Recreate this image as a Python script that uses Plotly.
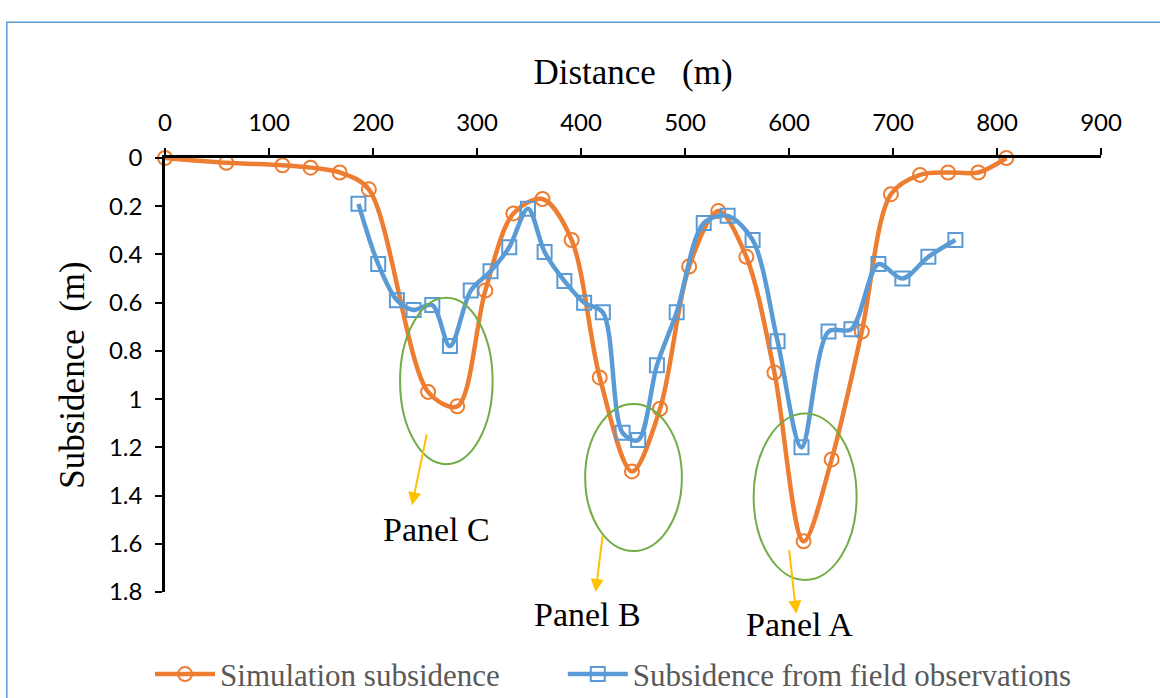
import plotly.graph_objects as go

# Simulation subsidence (orange)
sim_x = [0, 59, 113, 140, 168, 196, 253, 281, 308, 335, 363, 391, 418, 449, 476,
         504, 532, 559, 586, 614, 641, 670, 698, 726, 753, 782, 809]
sim_y = [0.0, 0.02, 0.03, 0.04, 0.06, 0.13, 0.97, 1.03, 0.55, 0.23, 0.17, 0.34, 0.91, 1.30, 1.04,
         0.45, 0.22, 0.41, 0.89, 1.59, 1.25, 0.72, 0.15, 0.07, 0.06, 0.06, 0.0]

# Subsidence from field observations (blue)
obs_x = [186, 205, 223, 239, 257, 274, 294, 313, 331, 349, 365, 384, 403, 421, 440,
         455, 473, 492, 518, 541, 565, 589, 612, 638, 660, 686, 709, 734, 760]
obs_y = [0.19, 0.44, 0.59, 0.63, 0.61, 0.78, 0.55, 0.47, 0.37, 0.21, 0.39, 0.51, 0.60, 0.64, 1.14,
         1.17, 0.86, 0.64, 0.27, 0.24, 0.34, 0.76, 1.20, 0.72, 0.71, 0.44, 0.50, 0.41, 0.34]

x_ticks = [0, 100, 200, 300, 400, 500, 600, 700, 800, 900]
y_ticks = [0, 0.2, 0.4, 0.6, 0.8, 1.0, 1.2, 1.4, 1.6, 1.8]
y_tick_labels = ["0", "0.2", "0.4", "0.6", "0.8", "1", "1.2", "1.4", "1.6", "1.8"]

panel_names = ["Panel C", "Panel B", "Panel A"]
# ellipse bounds (x0, x1, y0, y1) in data units
ellipses = [(226, 315, 0.58, 1.27), (404, 497, 1.02, 1.63), (566, 665, 1.06, 1.75)]
# arrow tail -> head in data units
arrows = [((252, 1.14), (237.5, 1.44)), ((421, 1.56), (414, 1.80)), ((600, 1.62), (607, 1.89))]
# label x in data units, y in paper fraction
label_pos = [(261.5, 0.145), (406, -0.051), (610, -0.074)]

ORANGE = "#ED7D31"
BLUE = "#5B9BD5"
SERIF = "Liberation Serif"

fig = go.Figure()
fig.add_trace(go.Scatter(
    x=sim_x, y=sim_y, name="Simulation subsidence", mode="lines+markers",
    line=dict(color=ORANGE, width=4.5, shape="spline", smoothing=0.9),
    marker=dict(symbol="circle-open", size=14, color=ORANGE, line=dict(width=2)),
    cliponaxis=False, legend="legend",
))
fig.add_trace(go.Scatter(
    x=obs_x, y=obs_y, name="Subsidence from field observations", mode="lines+markers",
    line=dict(color=BLUE, width=4.5, shape="spline", smoothing=0.9),
    marker=dict(symbol="square-open", size=14, color=BLUE, line=dict(width=2)),
    cliponaxis=False, legend="legend2",
))

shapes = []
for (x0, x1, y0, y1) in ellipses:
    shapes.append(dict(type="circle", xref="x", yref="y", x0=x0, x1=x1, y0=y0, y1=y1,
                       line=dict(color="#70AD47", width=2)))
# outer frame
shapes.append(dict(type="rect", xref="paper", yref="paper", x0=-0.169, x1=1.07, y0=-0.26, y1=1.313,
                   line=dict(color="#5B9BD5", width=1.5), layer="below"))

annotations = []
for (tail, head) in arrows:
    annotations.append(dict(x=head[0], y=head[1], ax=tail[0], ay=tail[1], xref="x", yref="y",
                            axref="x", ayref="y", showarrow=True, arrowhead=2, arrowsize=1.3,
                            arrowwidth=2, arrowcolor="#FFC000", text=""))
for name, (lx, ly) in zip(panel_names, label_pos):
    annotations.append(dict(x=lx, y=ly, xref="x", yref="paper", yanchor="middle", text=name,
                            showarrow=False, font=dict(family=SERIF, size=34, color="black")))

legend_style = dict(orientation="h", xanchor="left", y=-0.19, yanchor="middle",
                    font=dict(family=SERIF, size=31, color="#595959"),
                    itemwidth=60, bgcolor="rgba(0,0,0,0)")

fig.update_layout(
    width=1160, height=698,
    margin=dict(l=165, r=59, t=158, b=106, autoexpand=False),
    paper_bgcolor="white", plot_bgcolor="white",
    showlegend=True,
    legend=dict(x=-0.016, **legend_style),
    legend2=dict(x=0.425, **legend_style),
    xaxis=dict(side="top", range=[0, 900], tickvals=x_ticks, showgrid=False, zeroline=False,
               showline=True, linecolor="black", linewidth=2.5, ticks="outside", ticklen=7,
               tickwidth=1.5, tickcolor="black", ticklabelstandoff=8,
               tickfont=dict(family="Lato", size=24, color="black"),
               title=dict(text="Distance\u00a0\u00a0\u00a0(m)", font=dict(family=SERIF, size=35, color="black"),
                          standoff=12)),
    yaxis=dict(range=[1.8, 0], tickvals=y_ticks, ticktext=y_tick_labels, showgrid=False, zeroline=False,
               showline=True, linecolor="black", linewidth=2.5, ticks="outside", ticklen=7,
               tickwidth=1.5, tickcolor="black", ticklabelstandoff=8,
               tickfont=dict(family="Lato", size=24, color="black"),
               title=dict(text="Subsidence\u00a0\u00a0(m)", font=dict(family=SERIF, size=35, color="black"),
                          standoff=14)),
    shapes=shapes, annotations=annotations,
)

fig.write_html("out.html")
